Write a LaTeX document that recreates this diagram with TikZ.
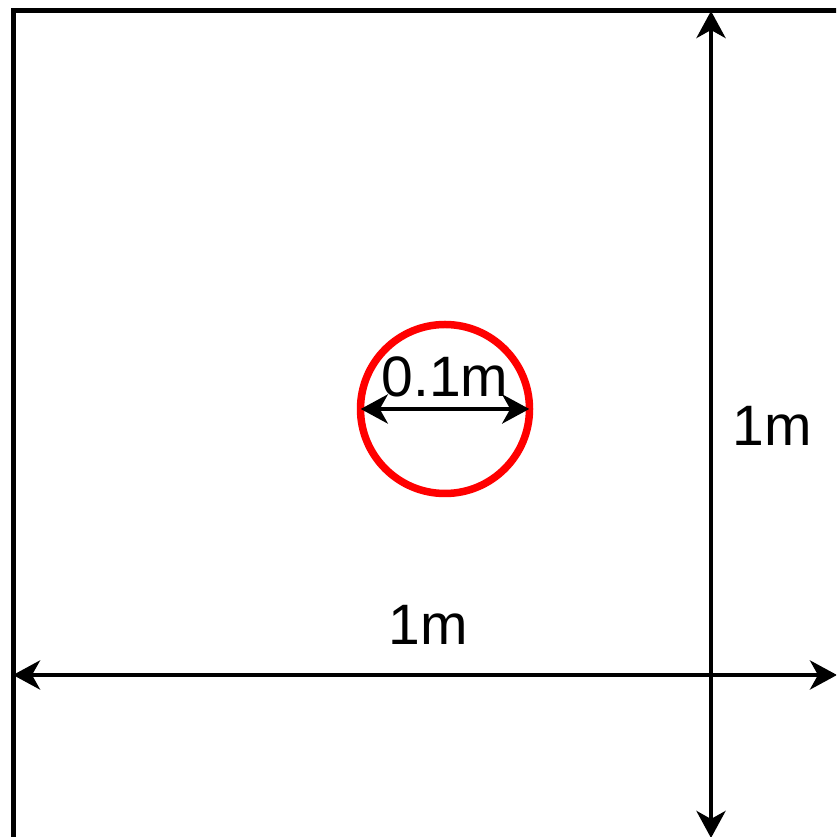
\documentclass[tikz,border=0pt]{standalone}
\usepackage{fontspec}
\setmainfont{Liberation Sans}
\usetikzlibrary{arrows.meta}
\begin{document}
\begin{tikzpicture}[x=1pt,y=1pt,
  dim/.style={line width=4.5pt, draw=black, {Stealth[length=27pt,width=29pt,inset=8pt]}-{Stealth[length=27pt,width=29pt,inset=8pt]}},
  lbl/.style={anchor=base, inner sep=0pt, font=\fontsize{57}{60}\selectfont}]
\useasboundingbox (0,0) rectangle (836,837);
\clip (0,0) rectangle (836,837);
% square (extends beyond the picture)
\draw[line width=5.5pt] (13.5,-60) -- (13.5,826.5) -- (900,826.5);
% circle
\node[circle, draw=red, line width=7.5pt, minimum size=169pt, inner sep=0pt] (c) at (445,428) {};
% named coordinates
\coordinate (vt) at (711,826);
\coordinate (vb) at (711,-1);
\coordinate (hl) at (13,162);
\coordinate (hr) at (837,162);
\path (c.west) ++(4,0) coordinate (cl);
\path (c.east) ++(-4,0) coordinate (cr);
% dimension arrows
\draw[dim] (vt) -- (vb);
\draw[dim] (hl) -- (hr);
\draw[dim] (cl) -- (cr);
% labels
\node[lbl] (t01) at (445,440) {0.1m};
\node[lbl] (tv) at (772,391) {1m};
\node[lbl] (th) at (428,192) {1m};
\end{tikzpicture}
\end{document}
